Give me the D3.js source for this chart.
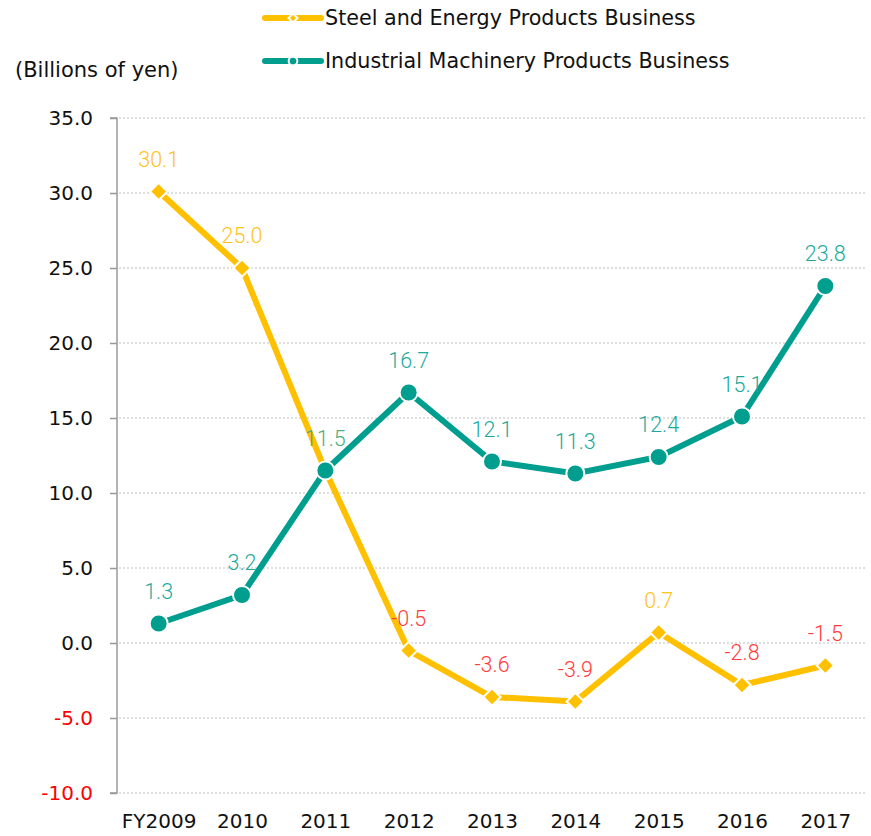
<!DOCTYPE html>
<html>
<head>
<meta charset="utf-8">
<script src="https://cdn.jsdelivr.net/npm/d3@7"></script>
<style>
  body { margin: 0; background: #fff; }
  svg text { font-family: "DejaVu Sans", Verdana, sans-serif; }
</style>
</head>
<body>
<div class="graphic"></div>
<script>
const years = ['FY2009', '2010', '2011', '2012', '2013', '2014', '2015', '2016', '2017'];
const steelValues = [30.1, 25.0, 11.5, -0.5, -3.6, -3.9, 0.7, -2.8, -1.5];
const machineryValues = [1.3, 3.2, 11.5, 16.7, 12.1, 11.3, 12.4, 15.1, 23.8];
const yTicks = [35, 30, 25, 20, 15, 10, 5, 0, -5, -10];
const seriesNames = ['Steel and Energy Products Business', 'Industrial Machinery Products Business'];

const width = 871, height = 836;
const steelColor = '#FFC000';
const tealColor = '#009E8F';

const fmt = d => d.toFixed(1);

const svg = d3.select('.graphic')
  .append('svg')
  .attr('width', width)
  .attr('height', height);

const x = d3.scalePoint()
  .domain(years)
  .range([117, 867])
  .padding(0.5);

const y = d3.scaleLinear()
  .domain([-10, 35])
  .range([793, 118]);

// gridlines
svg.append('g')
  .selectAll('line')
  .data(yTicks)
  .enter()
  .append('line')
  .attr('x1', 119)
  .attr('x2', 867)
  .attr('y1', d => y(d))
  .attr('y2', d => y(d))
  .attr('stroke', '#bdbdbd')
  .attr('stroke-width', 1)
  .attr('stroke-dasharray', '2,2');

// y axis
const yAxis = svg.append('g')
  .attr('transform', 'translate(117,0)')
  .call(d3.axisLeft(y).tickValues(yTicks).tickFormat(fmt).tickSize(7).tickPadding(17));
yAxis.select('.domain').attr('stroke', '#999').attr('stroke-width', 1.5).attr('d', `M-7,${y(35)}H0V${y(-10)}H-7`);
yAxis.selectAll('.tick line').attr('stroke', '#999').attr('stroke-width', 1.5);
yAxis.selectAll('.tick text')
  .attr('font-size', 20)
  .attr('font-family', '"DejaVu Sans", sans-serif')
  .attr('fill', d => d < 0 ? '#FF0000' : '#111');

// x axis labels
const xAxis = svg.append('g')
  .attr('transform', 'translate(0,806)')
  .call(d3.axisBottom(x).tickSize(0).tickPadding(8));
xAxis.select('.domain').remove();
xAxis.selectAll('.tick text')
  .attr('font-size', 20)
  .attr('font-family', '"DejaVu Sans", sans-serif')
  .attr('fill', '#111');

svg.append('text')
  .attr('x', 15)
  .attr('y', 77)
  .attr('font-size', 21)
  .attr('fill', '#111')
  .text('(Billions of yen)');

const line = d3.line()
  .x((d, i) => x(years[i]))
  .y(d => y(d));

// steel line
svg.append('path')
  .datum(steelValues)
  .attr('d', line)
  .attr('fill', 'none')
  .attr('stroke', steelColor)
  .attr('stroke-width', 6);

// machinery line
svg.append('path')
  .datum(machineryValues)
  .attr('d', line)
  .attr('fill', 'none')
  .attr('stroke', tealColor)
  .attr('stroke-width', 6);

const diamond = d3.symbol().type(d3.symbolSquare).size(150);

svg.selectAll('path.steel-marker')
  .data(steelValues)
  .enter()
  .append('path')
  .attr('class', 'steel-marker')
  .attr('d', diamond)
  .attr('transform', (d, i) => `translate(${x(years[i])},${y(d)}) rotate(45)`)
  .attr('fill', steelColor)
  .attr('stroke', '#fff')
  .attr('stroke-width', 2);

svg.selectAll('circle.mach-marker')
  .data(machineryValues)
  .enter()
  .append('circle')
  .attr('class', 'mach-marker')
  .attr('cx', (d, i) => x(years[i]))
  .attr('cy', d => y(d))
  .attr('r', 9)
  .attr('fill', tealColor)
  .attr('stroke', '#fff')
  .attr('stroke-width', 2);

// data labels
svg.selectAll('text.steel-label')
  .data(steelValues)
  .enter()
  .append('text')
  .attr('class', 'steel-label')
  .attr('x', (d, i) => x(years[i]))
  .attr('y', d => y(d) - 25)
  .attr('text-anchor', 'middle')
  .attr('font-size', 21.5)
  .attr('font-weight', 300)
  .style('font-family', 'Roboto, sans-serif')
  .attr('fill', d => d < 0 ? '#FF3B3B' : '#FFC21A')
  .text((d, i) => i === 2 ? '' : fmt(d));

svg.selectAll('text.mach-label')
  .data(machineryValues)
  .enter()
  .append('text')
  .attr('class', 'mach-label')
  .attr('x', (d, i) => x(years[i]))
  .attr('y', d => y(d) - 25)
  .attr('text-anchor', 'middle')
  .attr('font-size', 21.5)
  .attr('font-weight', 300)
  .style('font-family', 'Roboto, sans-serif')
  .attr('fill', (d, i) => i === 2 ? '#4DAE7E' : '#1BAA9B')
  .text(d => fmt(d));

// legend
const legend = svg.append('g');
const legendRows = legend.selectAll('g')
  .data(seriesNames)
  .enter()
  .append('g')
  .attr('transform', (d, i) => `translate(265,${18 + i * 43})`);

legendRows.append('line')
  .attr('x1', 0)
  .attr('x2', 56)
  .attr('stroke', (d, i) => i === 0 ? steelColor : tealColor)
  .attr('stroke-width', 6)
  .attr('stroke-linecap', 'round');

legendRows.append('path')
  .attr('d', (d, i) => i === 0 ? d3.symbol().type(d3.symbolSquare).size(40)() : d3.symbol().type(d3.symbolCircle).size(60)())
  .attr('transform', (d, i) => `translate(28,0) rotate(${i === 0 ? 45 : 0})`)
  .attr('fill', (d, i) => i === 0 ? steelColor : tealColor)
  .attr('stroke', '#fff')
  .attr('stroke-width', 2);

legendRows.append('text')
  .attr('x', 60)
  .attr('y', 7)
  .attr('font-size', 20.7)
  .attr('fill', '#111')
  .text(d => d);
</script>
</body>
</html>
